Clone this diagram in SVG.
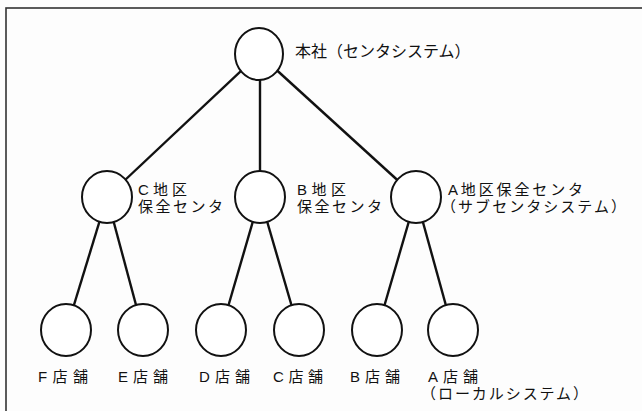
<svg xmlns="http://www.w3.org/2000/svg" width="642" height="411" viewBox="0 0 642 411">
<style>
.node{fill:#fff;stroke:#111;stroke-width:2}
.edge{stroke:#111;stroke-width:2.4;fill:none}
text{font-family:"Liberation Sans","Noto Sans CJK JP",sans-serif;fill:#111}
.lg{font-size:16px}
.md{font-size:15px}
</style>
<rect x="0" y="0" width="642" height="411" fill="#fdfdfd"/>
<rect x="6" y="8" width="700" height="500" fill="none" stroke="#333" stroke-width="1.6"/>
<g id="connectors">
<line class="edge" x1="259" y1="54" x2="107" y2="197"/>
<line class="edge" x1="260" y1="54" x2="260" y2="197"/>
<line class="edge" x1="259" y1="54" x2="416" y2="197"/>
<line class="edge" x1="107" y1="197" x2="66" y2="331"/>
<line class="edge" x1="107" y1="197" x2="143" y2="331"/>
<line class="edge" x1="260" y1="197" x2="221" y2="331"/>
<line class="edge" x1="260" y1="197" x2="299" y2="331"/>
<line class="edge" x1="416" y1="197" x2="377" y2="331"/>
<line class="edge" x1="416" y1="197" x2="453" y2="331"/>
</g>
<g id="hq">
<ellipse class="node" cx="259" cy="54" rx="24" ry="26"/>
<text class="lg" x="295" y="57">本社（センタシステム）</text>
</g>
<g id="areaC">
<ellipse class="node" cx="107" cy="197" rx="25" ry="26"/>
<text class="md" x="138" y="195" textLength="49" lengthAdjust="spacing">C地区</text>
<text class="md" x="138" y="212" textLength="85" lengthAdjust="spacing">保全センタ</text>
</g>
<g id="areaB">
<ellipse class="node" cx="260" cy="197" rx="25" ry="26"/>
<text class="md" x="297" y="195" textLength="49" lengthAdjust="spacing">B地区</text>
<text class="md" x="297" y="212" textLength="85" lengthAdjust="spacing">保全センタ</text>
</g>
<g id="areaA">
<ellipse class="node" cx="416" cy="197" rx="25" ry="26"/>
<text class="md" x="448" y="195" textLength="135" lengthAdjust="spacing">A地区保全センタ</text>
<text class="md" x="441" y="212" textLength="185" lengthAdjust="spacing">（サブセンタシステム）</text>
</g>
<g id="storeF">
<ellipse class="node" cx="66" cy="330" rx="25" ry="26"/>
<text class="md" x="38" y="382" textLength="50" lengthAdjust="spacing">F店舗</text>
</g>
<g id="storeE">
<ellipse class="node" cx="143" cy="330" rx="25" ry="26"/>
<text class="md" x="118" y="382" textLength="50" lengthAdjust="spacing">E店舗</text>
</g>
<g id="storeD">
<ellipse class="node" cx="221" cy="330" rx="25" ry="26"/>
<text class="md" x="199" y="382" textLength="51" lengthAdjust="spacing">D店舗</text>
</g>
<g id="storeC">
<ellipse class="node" cx="299" cy="330" rx="25" ry="26"/>
<text class="md" x="273" y="382" textLength="50" lengthAdjust="spacing">C店舗</text>
</g>
<g id="storeB">
<ellipse class="node" cx="377" cy="330" rx="25" ry="26"/>
<text class="md" x="350" y="382" textLength="50" lengthAdjust="spacing">B店舗</text>
</g>
<g id="storeA">
<ellipse class="node" cx="453" cy="330" rx="25" ry="26"/>
<text class="md" x="428" y="382" textLength="50" lengthAdjust="spacing">A店舗</text>
<text class="md" x="421" y="399" textLength="167" lengthAdjust="spacing">（ローカルシステム）</text>
</g>
</svg>
